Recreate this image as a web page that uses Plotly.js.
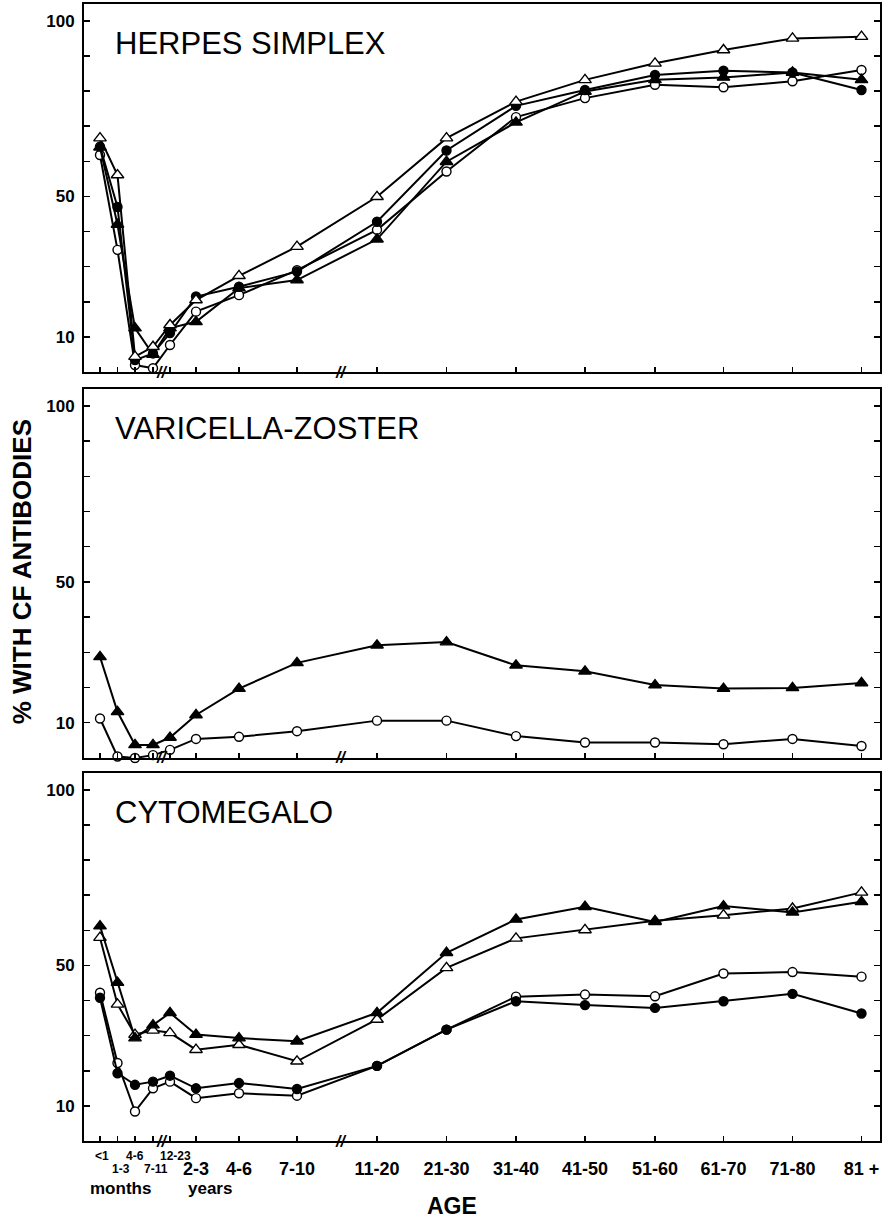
<!DOCTYPE html>
<html><head><meta charset="utf-8">
<script src="https://cdn.plot.ly/plotly-3.0.1.min.js"></script>
<style>html,body{margin:0;padding:0;background:#fff}#chart{width:885px;height:1219px}</style>
</head><body><div id="chart"></div>
<script>
// Age categories and their spacing along the (broken) age axis
const ageLabels = ['<1','1-3','4-6','7-11','12-23','2-3','4-6','7-10','11-20','21-30','31-40','41-50','51-60','61-70','71-80','81 +'];
const ageAxisPos = [100,117.5,135,153,170,196,239,297,377,446.5,516,585,655,723.5,792.5,861.5];
const monthLabelCount = 5;

// HERPES SIMPLEX (% with CF antibodies)
const hsOpenTri  = [66.6, 56.1, 4.4, 7.2, 13.4, 20.5, 27.4, 35.7, 49.9, 66.6, 77.0, 83.2, 87.9, 91.7, 95.0, 95.5];
const hsFillTri  = [64.0, 42.0, 12.5, 5.0, 12.5, 14.3, 23.9, 26.2, 37.8, 59.9, 71.1, 79.9, 83.2, 83.9, 85.3, 83.2];
const hsFillCirc = [64.2, 47.0, 3.4, 5.3, 11.1, 21.5, 24.3, 28.6, 42.8, 63.1, 75.8, 80.3, 84.6, 85.8, 85.3, 80.3];
const hsOpenCirc = [61.8, 34.8, 2.0, 1.1, 7.7, 17.2, 21.9, 29.0, 40.5, 57.1, 72.6, 78.0, 81.8, 81.1, 82.8, 86.0];

// VARICELLA-ZOSTER
const vzFillTri  = [28.7, 13.1, 3.7, 3.7, 5.8, 12.2, 19.7, 27.0, 32.0, 32.9, 26.3, 24.6, 20.7, 19.7, 19.9, 21.3];
const vzOpenCirc = [11.2, 0.4, 0.0, 0.8, 2.3, 5.4, 6.0, 7.6, 10.6, 10.6, 6.2, 4.4, 4.4, 3.9, 5.4, 3.4];

// CYTOMEGALO
const cmFillTri  = [61.2, 45.1, 29.3, 33.0, 36.5, 30.3, 29.3, 28.4, 36.5, 53.6, 63.1, 66.7, 62.4, 66.9, 65.1, 68.1];
const cmOpenTri  = [57.9, 38.9, 30.3, 31.5, 30.8, 26.0, 27.4, 22.7, 34.6, 49.3, 57.7, 60.1, 62.7, 64.3, 66.2, 70.8];
const cmFillCirc = [40.8, 19.3, 16.0, 16.9, 18.6, 15.0, 16.5, 14.8, 21.4, 31.7, 39.8, 38.7, 37.9, 39.8, 41.9, 36.3];
const cmOpenCirc = [42.2, 22.2, 8.4, 15.0, 16.9, 12.2, 13.6, 12.9, 21.4, 31.7, 41.1, 41.7, 41.2, 47.7, 48.1, 46.8];

const yTickVals = [10,20,30,40,50,60,70,80,90,100];
const yTickText = ['10','','','','50','','','','','100'];
const panelTitles = ['HERPES SIMPLEX','VARICELLA-ZOSTER','CYTOMEGALO'];
const yTitle = '% WITH CF ANTIBODIES';
const xTitle = 'AGE';
const unitLabels = ['months','years'];
const breakPos = [161, 340];

const FONT = 'Liberation Sans, Arial, Helvetica, sans-serif';

function series(xa, ya, values, shape, filled) {
  return {
    type: 'scatter', mode: 'lines+markers', x: ageAxisPos, y: values,
    xaxis: xa, yaxis: ya, showlegend: false, cliponaxis: false, hoverinfo: 'skip',
    line: {color: '#000', width: 2},
    marker: {symbol: shape, size: shape === 'circle' ? 9 : 11,
             color: filled ? '#000' : '#fff', line: {color: '#000', width: 1.4}}
  };
}

const data = [
  series('x','y', hsOpenCirc, 'circle', false),
  series('x','y', hsFillTri, 'triangle-up', true),
  series('x','y', hsFillCirc, 'circle', true),
  series('x','y', hsOpenTri, 'triangle-up', false),
  series('x2','y2', vzOpenCirc, 'circle', false),
  series('x2','y2', vzFillTri, 'triangle-up', true),
  series('x3','y3', cmOpenCirc, 'circle', false),
  series('x3','y3', cmFillCirc, 'circle', true),
  series('x3','y3', cmOpenTri, 'triangle-up', false),
  series('x3','y3', cmFillTri, 'triangle-up', true)
];

function yAxis(domain, anchor) {
  return {domain, anchor, range: [0, 104.8], tickmode: 'array', tickvals: yTickVals, ticktext: yTickText,
    ticks: 'inside', ticklen: 6, tickwidth: 1.5, tickcolor: '#000',
    showline: true, linewidth: 2, linecolor: '#000', mirror: 'ticks',
    showgrid: false, zeroline: false, fixedrange: true, ticklabelstandoff: 4,
    tickfont: {family: FONT, size: 17, color: '#000', weight: 'bold'}};
}
function xAxis(anchor, labels) {
  return {anchor, domain: [0, 1], range: [84, 880], tickmode: 'array', tickvals: ageAxisPos,
    ticktext: labels ? ageLabels.map((l, i) => i < monthLabelCount ? '' : l) : ageLabels.map(() => ''),
    showticklabels: !!labels,
    ticks: 'inside', ticklen: 5, tickwidth: 1.5, tickcolor: '#000',
    showline: true, linewidth: 2, linecolor: '#000', mirror: true,
    showgrid: false, zeroline: false, fixedrange: true, ticklabelstandoff: 10,
    tickfont: {family: FONT, size: 18, color: '#000', weight: 'bold'}};
}

const annotations = [];
['y','y2','y3'].forEach((ya, k) => {
  annotations.push({xref: 'x' + (k ? k + 1 : ''), yref: ya + ' domain', x: 113, y: 0.892,
    xanchor: 'left', yanchor: 'middle', showarrow: false, text: panelTitles[k],
    font: {family: FONT, size: 31, color: '#000'}});
  breakPos.forEach(bx => annotations.push({xref: 'x' + (k ? k + 1 : ''), yref: ya, x: bx, y: 0,
    xanchor: 'center', yanchor: 'middle', showarrow: false, text: '<b><i>//</i></b>',
    font: {family: FONT, size: 16, color: '#000'}}));
});
// small month tick labels, staggered in two rows
const esc = s => s.replace('<', '&lt;');
const monthShift = [2, 3, 0, 3, 5];
for (let i = 0; i < monthLabelCount; i++) {
  annotations.push({xref: 'x3', yref: 'paper', x: ageAxisPos[i] + monthShift[i],
    y: i % 2 === 0 ? -0.0132 : -0.0245, xanchor: 'center', yanchor: 'middle', showarrow: false,
    text: '<b>' + esc(ageLabels[i]) + '</b>', font: {family: FONT, size: 12, color: '#000'}});
}
annotations.push({xref: 'x3', yref: 'paper', x: 120, y: -0.0415, xanchor: 'center', yanchor: 'middle',
  showarrow: false, text: '<b>' + unitLabels[0] + '</b>', font: {family: FONT, size: 17, color: '#000'}});
annotations.push({xref: 'x3', yref: 'paper', x: 210, y: -0.0415, xanchor: 'center', yanchor: 'middle',
  showarrow: false, text: '<b>' + unitLabels[1] + '</b>', font: {family: FONT, size: 17, color: '#000'}});
annotations.push({xref: 'x3', yref: 'paper', x: 452, y: -0.0575, xanchor: 'center', yanchor: 'middle',
  showarrow: false, text: '<b>' + xTitle + '</b>', font: {family: FONT, size: 23, color: '#000'}});
annotations.push({xref: 'paper', yref: 'paper', x: -0.078, y: 0.501, xanchor: 'center', yanchor: 'middle',
  textangle: -90, showarrow: false, text: '<b>' + yTitle + '</b>', font: {family: FONT, size: 26, color: '#000'}});

const layout = {
  width: 885, height: 1219, paper_bgcolor: '#fff', plot_bgcolor: '#fff',
  margin: {l: 84, r: 5, t: 4, b: 78},
  showlegend: false,
  xaxis: xAxis('y', false), xaxis2: xAxis('y2', false), xaxis3: xAxis('y3', true),
  yaxis: yAxis([0.6763, 1], 'x'), yaxis2: yAxis([0.3369, 0.6614], 'x2'), yaxis3: yAxis([0, 0.3237], 'x3'),
  annotations
};
Plotly.newPlot('chart', data, layout, {displayModeBar: false, staticPlot: true});
</script></body></html>
